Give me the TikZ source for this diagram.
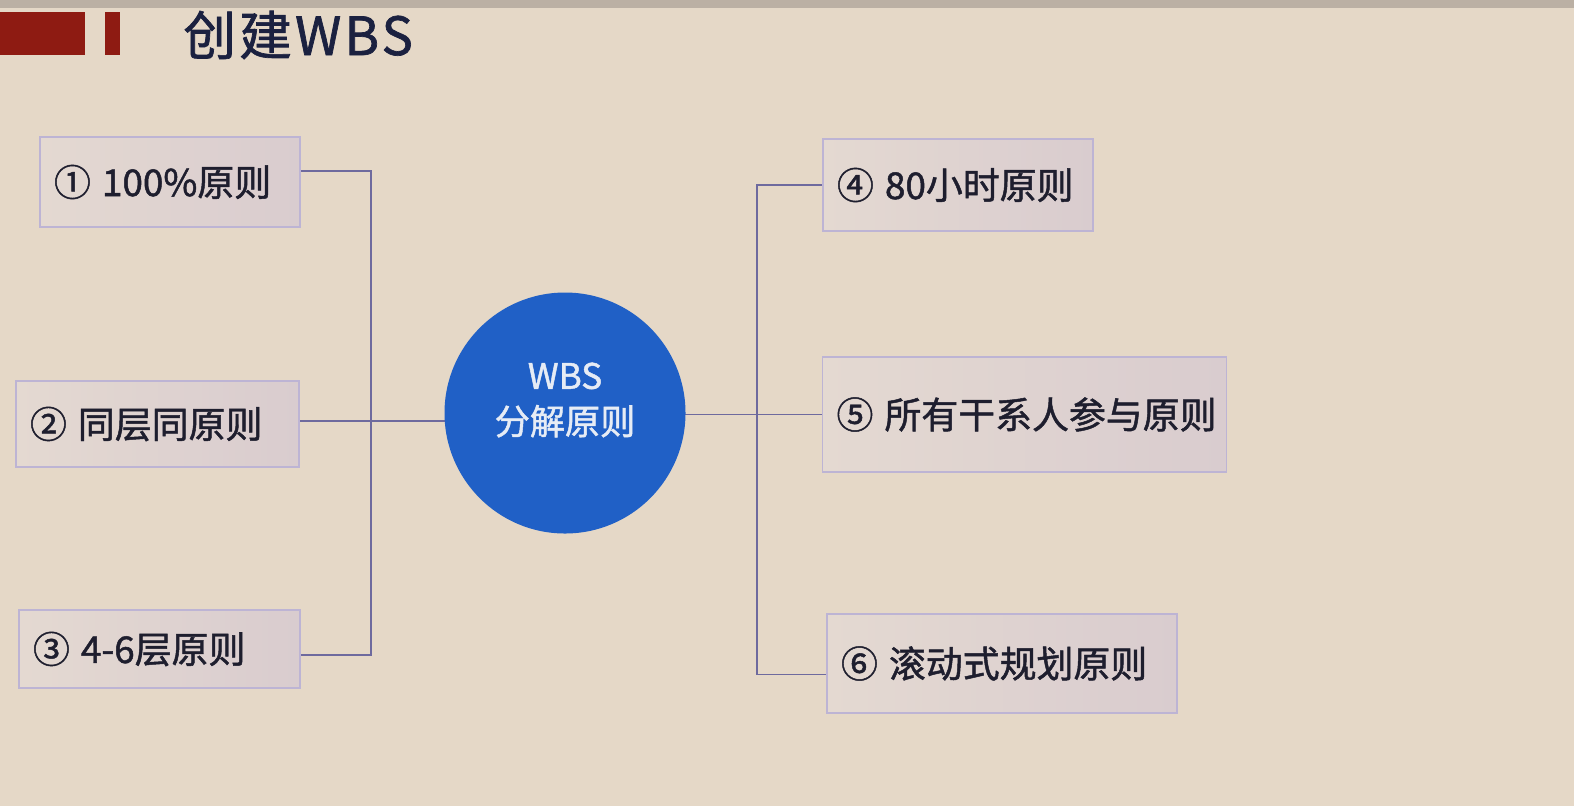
\documentclass[tikz,border=0pt]{standalone}
\usepackage{fontspec}
\setmainfont{Noto Sans CJK SC}[FakeBold=1.3]
\newfontfamily\headfont{Noto Sans CJK SC}[FakeBold=1.3, LetterSpace=6]
\usetikzlibrary{backgrounds}

\definecolor{pagebg}{HTML}{E5D8C7}
\definecolor{topband}{HTML}{BBB0A4}
\definecolor{markred}{HTML}{8E1B12}
\definecolor{titleink}{HTML}{1B2140}
\definecolor{boxlight}{HTML}{E4D9D1}
\definecolor{boxdark}{HTML}{D9CCCF}
\definecolor{boxline}{HTML}{BDB4D4}
\definecolor{linkline}{HTML}{6E6A9E}
\definecolor{hubblue}{HTML}{2060C6}
\definecolor{hubink}{HTML}{E6ECF5}
\definecolor{ruleink}{HTML}{1E1E2E}

\newcommand{\px}{0.02cm}
\newcommand{\gap}{\nobreak\hspace{0.3em}\nobreak}

\begin{document}
\begin{tikzpicture}[x=0.02cm,y=-0.02cm,
  rulebox/.style={draw=boxline, line width=0.9pt, left color=boxlight, right color=boxdark,
    inner xsep=14*\px, inner ysep=0pt, align=left, text=ruleink,
    font=\fontsize{21}{25}\selectfont},
  link/.style={draw=linkline, line width=1.1pt},
  hub/.style={circle, fill=hubblue, minimum size=241*\px, inner sep=0pt}]
  \useasboundingbox (0,0) rectangle (1574,806);

  % heading
  \fill[topband] (0,0) rectangle (1574,8);
  \fill[markred] (0,12) rectangle (85,55);
  \fill[markred] (105,12) rectangle (120,55);
  \node[anchor=west, text=titleink, font=\headfont\fontsize{30}{34}\selectfont, inner sep=0pt] (title) at (183,35) {创建WBS};

  % the six rules
  \node[rulebox, text width=232*\px, minimum height=90*\px] (r1) at (170,182) {①\gap 100\%原则};
  \node[rulebox, text width=255*\px, minimum height=86*\px] (r2) at (157.5,424) {②\gap 同层同原则};
  \node[rulebox, text width=253*\px, minimum height=78*\px] (r3) at (159.5,649) {③\gap 4-6层原则};
  \node[rulebox, text width=242*\px, minimum height=92*\px] (r4) at (958,185) {④\gap 80小时原则};
  \node[rulebox, text width=376*\px, minimum height=115*\px] (r5) at (1024.5,414.5) {⑤\gap 所有干系人参与原则};
  \node[rulebox, text width=322*\px, minimum height=99*\px] (r6) at (1002,663.5) {⑥\gap 滚动式规划原则};

  % centre
  \node[hub, label={[text=hubink, font=\fontsize{20}{26}\selectfont, align=center, yshift=13*\px]center:WBS\\分解原则}] (hub) at (565,413) {};

  \coordinate (ljoin) at (371,421);
  \coordinate (rjoin) at (757,414);

  \begin{scope}[on background layer]
    \fill[pagebg] (0,8) rectangle (1574,806);
    \draw[link] ([yshift=11*\px]r1.east) -| (ljoin) |- ([yshift=-6*\px]r3.east);
    \draw[link] ([yshift=3*\px]r2.east) -- ([yshift=3*\px]r2.east -| hub.center);
    \draw[link] (r5.west -| hub.center) -- (r5.west);
    \draw[link] (r4.west) -| (rjoin) |- ([yshift=-11*\px]r6.west);
  \end{scope}
\end{tikzpicture}
\end{document}
